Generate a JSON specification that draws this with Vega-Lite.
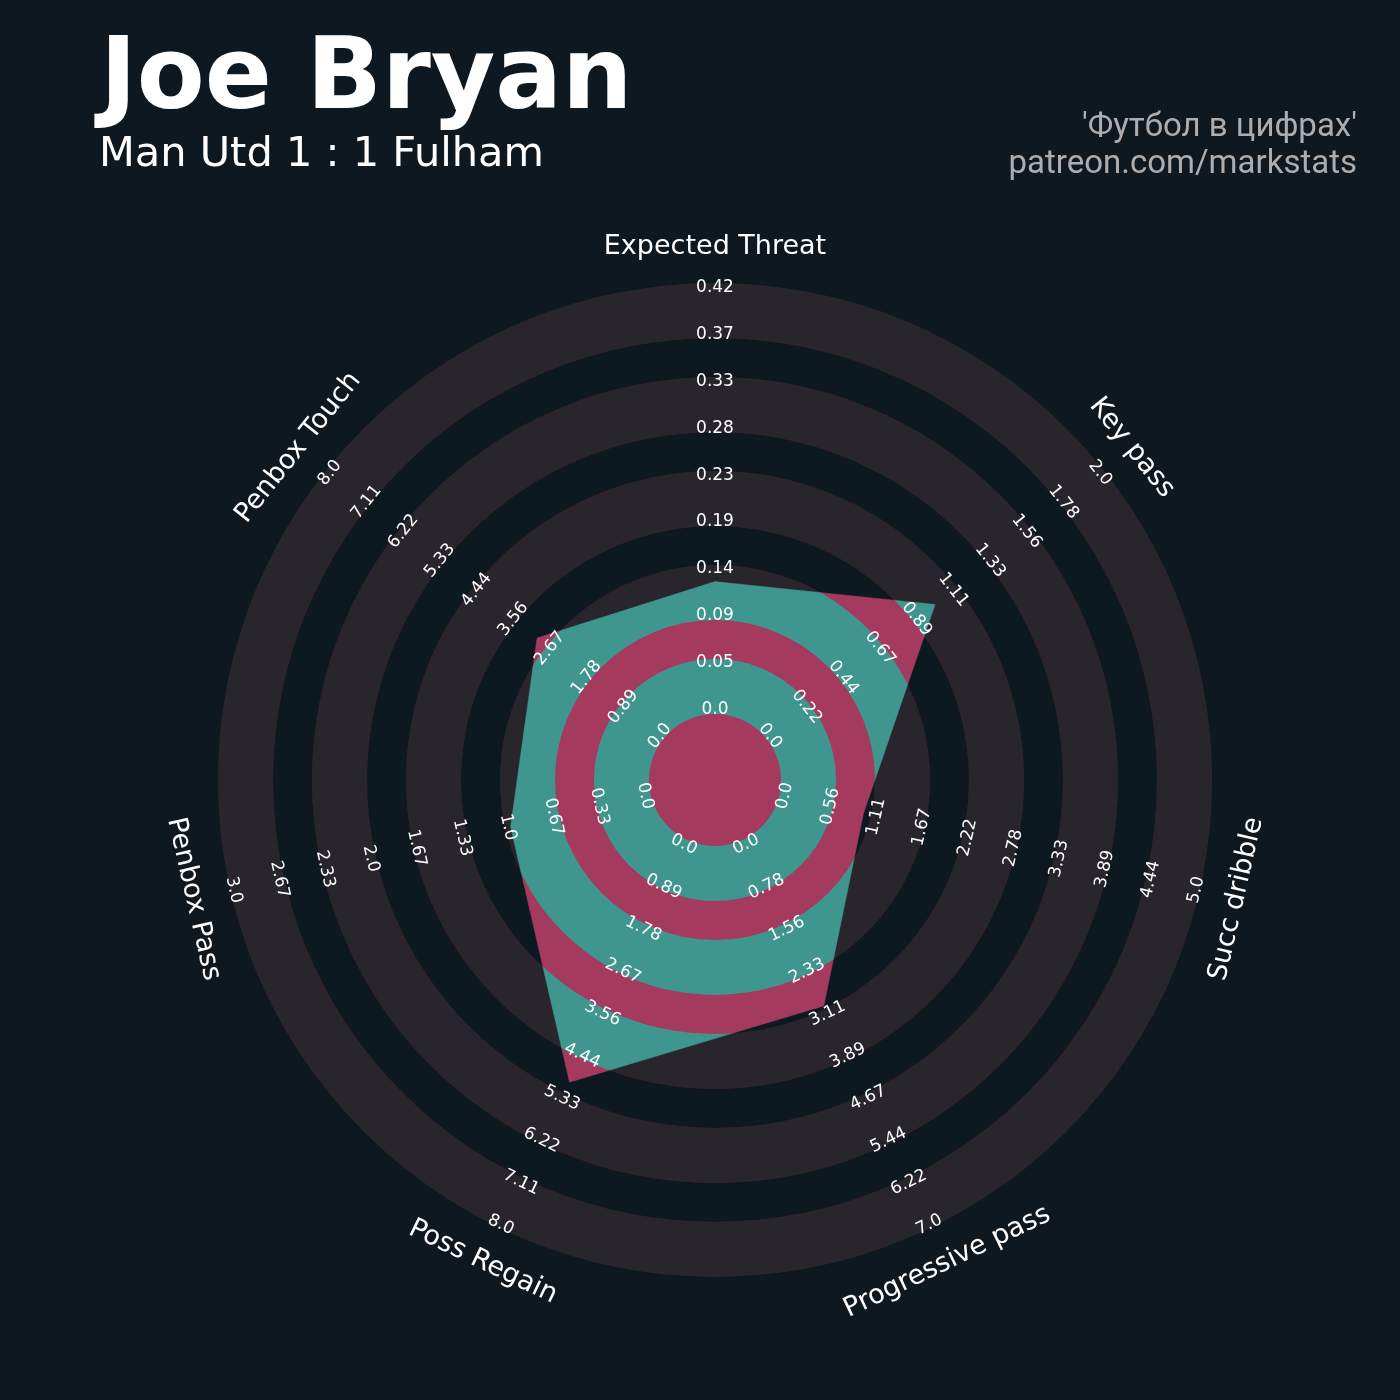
{
  "$schema": "https://vega.github.io/schema/vega-lite/v6.json",
  "width": 1100,
  "height": 1100,
  "autosize": {"type": "none"},
  "padding": {"left": 165, "top": 230, "right": 135, "bottom": 70},
  "background": "#0e1821",
  "config": {"view": {"stroke": null}, "text": {"font": "DejaVu Sans"}},
  "datasets": {
    "params": [
      {"idx": 0, "name": "Expected Threat", "value": 0.129, "max": 0.42},
      {"idx": 1, "name": "Key pass", "value": 1, "max": 2},
      {"idx": 2, "name": "Succ dribble", "value": 1, "max": 5},
      {"idx": 3, "name": "Progressive pass", "value": 3, "max": 7},
      {"idx": 4, "name": "Poss Regain", "value": 5, "max": 8},
      {"idx": 5, "name": "Penbox Pass", "value": 1, "max": 3},
      {"idx": 6, "name": "Penbox Touch", "value": 3, "max": 8}
    ],
    "base": [{"r0": 0, "r1": 497}],
    "faces": [
      {"r0": 66, "r1": 121}, {"r0": 160, "r1": 215}, {"r0": 254, "r1": 309},
      {"r0": 348, "r1": 403}, {"r0": 442, "r1": 497}
    ],
    "gaps": [
      {"r0": 0, "r1": 66}, {"r0": 121, "r1": 160}, {"r0": 215, "r1": 254},
      {"r0": 309, "r1": 348}, {"r0": 403, "r1": 442}
    ],
    "labels": [
      {"p":0,"k":0,"t":"0.0"},{"p":0,"k":1,"t":"0.05"},{"p":0,"k":2,"t":"0.09"},{"p":0,"k":3,"t":"0.14"},{"p":0,"k":4,"t":"0.19"},{"p":0,"k":5,"t":"0.23"},{"p":0,"k":6,"t":"0.28"},{"p":0,"k":7,"t":"0.33"},{"p":0,"k":8,"t":"0.37"},{"p":0,"k":9,"t":"0.42"},
      {"p":1,"k":0,"t":"0.0"},{"p":1,"k":1,"t":"0.22"},{"p":1,"k":2,"t":"0.44"},{"p":1,"k":3,"t":"0.67"},{"p":1,"k":4,"t":"0.89"},{"p":1,"k":5,"t":"1.11"},{"p":1,"k":6,"t":"1.33"},{"p":1,"k":7,"t":"1.56"},{"p":1,"k":8,"t":"1.78"},{"p":1,"k":9,"t":"2.0"},
      {"p":2,"k":0,"t":"0.0"},{"p":2,"k":1,"t":"0.56"},{"p":2,"k":2,"t":"1.11"},{"p":2,"k":3,"t":"1.67"},{"p":2,"k":4,"t":"2.22"},{"p":2,"k":5,"t":"2.78"},{"p":2,"k":6,"t":"3.33"},{"p":2,"k":7,"t":"3.89"},{"p":2,"k":8,"t":"4.44"},{"p":2,"k":9,"t":"5.0"},
      {"p":3,"k":0,"t":"0.0"},{"p":3,"k":1,"t":"0.78"},{"p":3,"k":2,"t":"1.56"},{"p":3,"k":3,"t":"2.33"},{"p":3,"k":4,"t":"3.11"},{"p":3,"k":5,"t":"3.89"},{"p":3,"k":6,"t":"4.67"},{"p":3,"k":7,"t":"5.44"},{"p":3,"k":8,"t":"6.22"},{"p":3,"k":9,"t":"7.0"},
      {"p":4,"k":0,"t":"0.0"},{"p":4,"k":1,"t":"0.89"},{"p":4,"k":2,"t":"1.78"},{"p":4,"k":3,"t":"2.67"},{"p":4,"k":4,"t":"3.56"},{"p":4,"k":5,"t":"4.44"},{"p":4,"k":6,"t":"5.33"},{"p":4,"k":7,"t":"6.22"},{"p":4,"k":8,"t":"7.11"},{"p":4,"k":9,"t":"8.0"},
      {"p":5,"k":0,"t":"0.0"},{"p":5,"k":1,"t":"0.33"},{"p":5,"k":2,"t":"0.67"},{"p":5,"k":3,"t":"1.0"},{"p":5,"k":4,"t":"1.33"},{"p":5,"k":5,"t":"1.67"},{"p":5,"k":6,"t":"2.0"},{"p":5,"k":7,"t":"2.33"},{"p":5,"k":8,"t":"2.67"},{"p":5,"k":9,"t":"3.0"},
      {"p":6,"k":0,"t":"0.0"},{"p":6,"k":1,"t":"0.89"},{"p":6,"k":2,"t":"1.78"},{"p":6,"k":3,"t":"2.67"},{"p":6,"k":4,"t":"3.56"},{"p":6,"k":5,"t":"4.44"},{"p":6,"k":6,"t":"5.33"},{"p":6,"k":7,"t":"6.22"},{"p":6,"k":8,"t":"7.11"},{"p":6,"k":9,"t":"8.0"}
    ]
  },
  "layer": [
    {
      "data": {"name": "base"},
      "mark": {"type": "arc", "theta": 0, "theta2": 6.283185307179586, "fill": "#0e1821"},
      "encoding": {
        "radius": {"field": "r1", "type": "quantitative", "scale": {"type": "linear", "domain": [0, 550], "range": [0, 550], "zero": true}},
        "radius2": {"field": "r0"}
      }
    },
    {
      "data": {"name": "faces"},
      "mark": {"type": "arc", "theta": 0, "theta2": 6.283185307179586, "fill": "#28252c"},
      "encoding": {
        "radius": {"field": "r1", "type": "quantitative", "scale": {"type": "linear", "domain": [0, 550], "range": [0, 550], "zero": true}},
        "radius2": {"field": "r0"}
      }
    },
    {
      "data": {"name": "params"},
      "transform": [
        {"calculate": "datum.idx * 360 / 7", "as": "ang"},
        {"calculate": "66 + datum.value / datum.max * 431", "as": "r"},
        {"calculate": "datum.r * sin(datum.ang * PI / 180)", "as": "x"},
        {"calculate": "datum.r * cos(datum.ang * PI / 180)", "as": "y"}
      ],
      "mark": {"type": "line", "interpolate": "linear-closed", "fill": "#3e968f", "stroke": "#3e968f", "strokeWidth": 0.5},
      "encoding": {
        "x": {"field": "x", "type": "quantitative", "scale": {"domain": [-550, 550], "nice": false, "zero": false}, "axis": null},
        "y": {"field": "y", "type": "quantitative", "scale": {"domain": [-550, 550], "nice": false, "zero": false}, "axis": null},
        "order": {"field": "idx", "type": "quantitative"}
      }
    },
    {
      "data": {"name": "gaps"},
      "mark": {"type": "arc", "theta": 0, "theta2": 6.283185307179586, "fill": "#0a0000", "blend": "difference"},
      "encoding": {
        "radius": {"field": "r1", "type": "quantitative", "scale": {"type": "linear", "domain": [0, 550], "range": [0, 550], "zero": true}},
        "radius2": {"field": "r0"}
      }
    },
    {
      "data": {"name": "gaps"},
      "mark": {"type": "arc", "theta": 0, "theta2": 6.283185307179586, "fill": "#ae0000", "blend": "color-dodge"},
      "encoding": {
        "radius": {"field": "r1", "type": "quantitative", "scale": {"type": "linear", "domain": [0, 550], "range": [0, 550], "zero": true}},
        "radius2": {"field": "r0"}
      }
    },
    {
      "data": {"name": "gaps"},
      "mark": {"type": "arc", "theta": 0, "theta2": 6.283185307179586, "fill": "#ff4a98", "blend": "multiply"},
      "encoding": {
        "radius": {"field": "r1", "type": "quantitative", "scale": {"type": "linear", "domain": [0, 550], "range": [0, 550], "zero": true}},
        "radius2": {"field": "r0"}
      }
    },
    {
      "data": {"name": "gaps"},
      "mark": {"type": "arc", "theta": 0, "theta2": 6.283185307179586, "fill": "#00120e", "blend": "screen"},
      "encoding": {
        "radius": {"field": "r1", "type": "quantitative", "scale": {"type": "linear", "domain": [0, 550], "range": [0, 550], "zero": true}},
        "radius2": {"field": "r0"}
      }
    },
    {
      "data": {"name": "labels"},
      "transform": [
        {"calculate": "datum.p * 360 / 7", "as": "ang"},
        {"calculate": "datum.ang <= 90 || datum.ang >= 270 ? datum.ang : datum.ang - 180", "as": "rot"},
        {"calculate": "71 + 46.9 * datum.k", "as": "r"}
      ],
      "mark": {"type": "text", "fontSize": 17, "fill": "#ffffff", "align": "center", "baseline": "middle"},
      "encoding": {
        "theta": {"field": "ang", "type": "quantitative", "scale": {"domain": [0, 360], "range": [0, 6.283185307179586]}, "stack": null},
        "radius": {"field": "r", "type": "quantitative", "scale": {"type": "linear", "domain": [0, 550], "range": [0, 550], "zero": true}},
        "angle": {"field": "rot", "type": "quantitative", "scale": null},
        "text": {"field": "t", "type": "nominal"}
      }
    },
    {
      "data": {"name": "params"},
      "transform": [
        {"calculate": "datum.idx * 360 / 7", "as": "ang"},
        {"calculate": "datum.ang <= 90 || datum.ang >= 270 ? datum.ang : datum.ang - 180", "as": "rot"},
        {"calculate": "534", "as": "r"}
      ],
      "mark": {"type": "text", "fontSize": 27, "fill": "#ffffff", "align": "center", "baseline": "middle"},
      "encoding": {
        "theta": {"field": "ang", "type": "quantitative", "scale": {"domain": [0, 360], "range": [0, 6.283185307179586]}, "stack": null},
        "radius": {"field": "r", "type": "quantitative", "scale": {"type": "linear", "domain": [0, 550], "range": [0, 550], "zero": true}},
        "angle": {"field": "rot", "type": "quantitative", "scale": null},
        "text": {"field": "name", "type": "nominal"}
      }
    },
    {
      "data": {"values": [{"txt": "Joe Bryan", "x": -615, "y": 672}]},
      "mark": {"type": "text", "fontSize": 99, "fontWeight": "bold", "fill": "#ffffff", "align": "left", "baseline": "alphabetic"},
      "encoding": {
        "x": {"field": "x", "type": "quantitative", "scale": {"domain": [-550, 550], "nice": false, "zero": false}, "axis": null},
        "y": {"field": "y", "type": "quantitative", "scale": {"domain": [-550, 550], "nice": false, "zero": false}, "axis": null},
        "text": {"field": "txt"}
      }
    },
    {
      "data": {"values": [{"txt": "Man Utd 1 : 1 Fulham", "x": -616, "y": 614}]},
      "mark": {"type": "text", "fontSize": 41.5, "fill": "#ffffff", "align": "left", "baseline": "alphabetic"},
      "encoding": {
        "x": {"field": "x", "type": "quantitative", "scale": {"domain": [-550, 550], "nice": false, "zero": false}, "axis": null},
        "y": {"field": "y", "type": "quantitative", "scale": {"domain": [-550, 550], "nice": false, "zero": false}, "axis": null},
        "text": {"field": "txt"}
      }
    },
    {
      "data": {"values": [{"txt": "'Футбол в цифрах'", "x": 642, "y": 644}, {"txt": "patreon.com/markstats", "x": 642, "y": 607}]},
      "mark": {"type": "text", "fontSize": 33, "font": "Roboto", "fill": "#adadad", "align": "right", "baseline": "alphabetic"},
      "encoding": {
        "x": {"field": "x", "type": "quantitative", "scale": {"domain": [-550, 550], "nice": false, "zero": false}, "axis": null},
        "y": {"field": "y", "type": "quantitative", "scale": {"domain": [-550, 550], "nice": false, "zero": false}, "axis": null},
        "text": {"field": "txt"}
      }
    }
  ]
}
